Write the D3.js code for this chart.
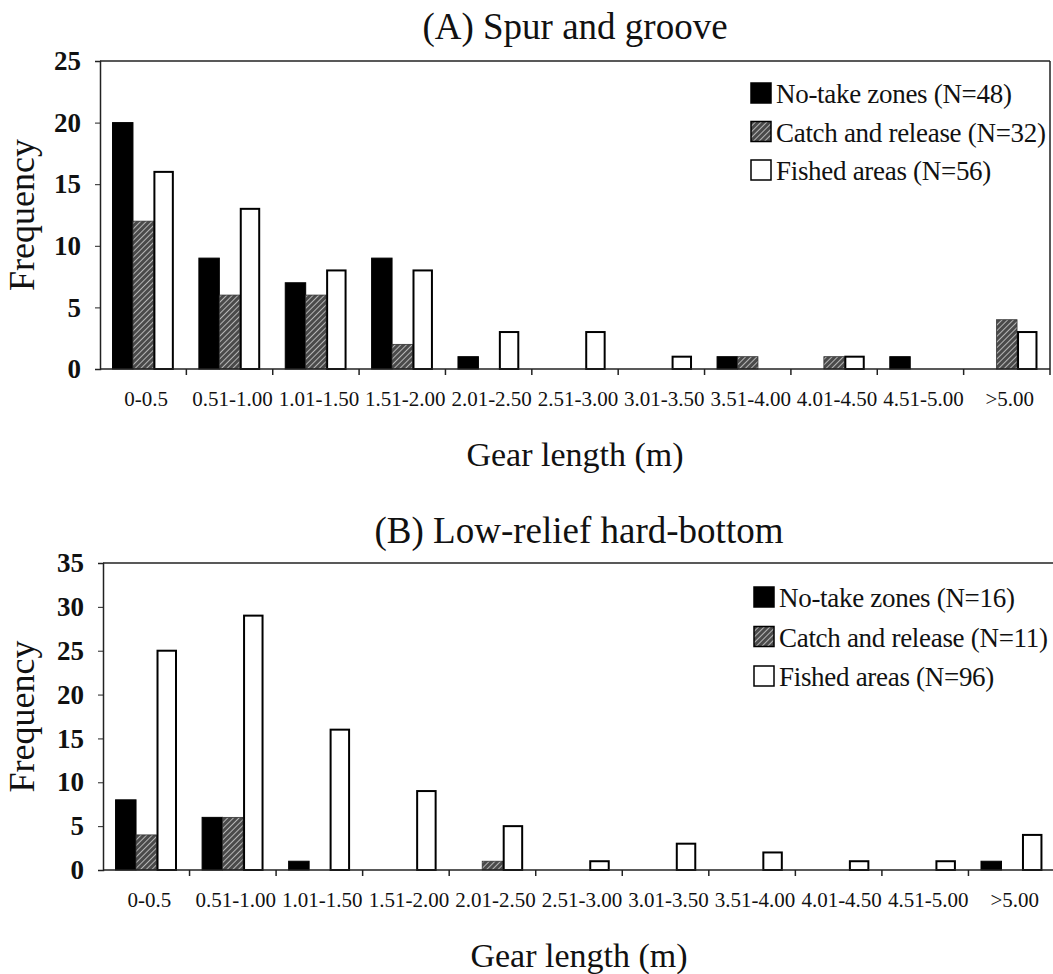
<!DOCTYPE html>
<html>
<head>
<meta charset="utf-8">
<script src="https://cdn.jsdelivr.net/npm/d3@7"></script>
<style>
  html, body { margin: 0; padding: 0; background: #fff; }
  svg { display: block; }
  text { font-family: "Liberation Serif", "Times New Roman", serif; fill: #111; }
</style>
</head>
<body>
<svg id="chart" width="1053" height="974"></svg>
<script>
// ---------- data ----------
const categories = ["0-0.5", "0.51-1.00", "1.01-1.50", "1.51-2.00", "2.01-2.50", "2.51-3.00",
                    "3.01-3.50", "3.51-4.00", "4.01-4.50", "4.51-5.00", ">5.00"];
const seriesKeys = ["noTake", "catchRelease", "fished"];

const titleA = "(A) Spur and groove";
const legendA = ["No-take zones (N=48)", "Catch and release (N=32)", "Fished areas (N=56)"];
const noTakeA       = [20, 9, 7, 9, 1, 0, 0, 1, 0, 1, 0];
const catchReleaseA = [12, 6, 6, 2, 0, 0, 0, 1, 1, 0, 4];
const fishedA       = [16, 13, 8, 8, 3, 3, 1, 0, 1, 0, 3];
const yTicksA = [0, 5, 10, 15, 20, 25];

const titleB = "(B) Low-relief hard-bottom";
const legendB = ["No-take zones (N=16)", "Catch and release (N=11)", "Fished areas (N=96)"];
const noTakeB       = [8, 6, 1, 0, 0, 0, 0, 0, 0, 0, 1];
const catchReleaseB = [4, 6, 0, 0, 1, 0, 0, 0, 0, 0, 0];
const fishedB       = [25, 29, 16, 9, 5, 1, 3, 2, 1, 1, 4];
const yTicksB = [0, 5, 10, 15, 20, 25, 30, 35];

const xTitle = "Gear length (m)";
const yTitle = "Frequency";

// ---------- drawing ----------
const svg = d3.select("#chart");
const defs = svg.append("defs");
const pat = defs.append("pattern")
  .attr("id", "hatch").attr("patternUnits", "userSpaceOnUse")
  .attr("width", 4).attr("height", 4)
  .attr("patternTransform", "rotate(45)");
pat.append("rect").attr("width", 4).attr("height", 4).attr("fill", "#4a4a4a");
pat.append("line").attr("x1", 0).attr("y1", 0).attr("x2", 0).attr("y2", 4)
  .attr("stroke", "#e4e4e4").attr("stroke-width", 1.4);

const styles = {
  noTake:       { fill: "#000", stroke: "#000", sw: 1 },
  catchRelease: { fill: "url(#hatch)", stroke: "#333", sw: 0.8 },
  fished:       { fill: "#fff", stroke: "#000", sw: 2 }
};

function drawPanel(cfg) {
  const g = svg.append("g");
  const x0 = d3.scaleBand().domain(categories)
    .range([cfg.left, cfg.right]).paddingInner(0.29).paddingOuter(0.145);
  const x1 = d3.scaleBand().domain(seriesKeys).range([0, x0.bandwidth()]).padding(0);
  const y = d3.scaleLinear().domain([0, cfg.yMax]).range([cfg.bottom, cfg.top]);
  const step = x0.step();
  const cx = (cfg.left + cfg.right) / 2;

  // frame lines (top / right)
  g.append("line").attr("x1", cfg.left).attr("x2", cfg.right)
    .attr("y1", cfg.top).attr("y2", cfg.top).attr("stroke", "#222").attr("stroke-width", 1.5);
  g.append("line").attr("x1", cfg.right).attr("x2", cfg.right)
    .attr("y1", cfg.top).attr("y2", cfg.bottom).attr("stroke", "#222").attr("stroke-width", 1.5);

  // bars
  const rows = categories.map((c, i) => ({
    cat: c,
    values: seriesKeys.map(k => ({ key: k, value: cfg.data[k][i] }))
  }));
  const grp = g.selectAll("g.cat").data(rows).join("g")
    .attr("transform", d => `translate(${x0(d.cat)},0)`);
  grp.selectAll("rect").data(d => d.values.filter(v => v.value > 0)).join("rect")
    .attr("x", d => x1(d.key) + (d.key === "fished" ? 1 : 0))
    .attr("width", d => x1.bandwidth() - (d.key === "fished" ? 2 : 0))
    .attr("y", d => y(d.value))
    .attr("height", d => y(0) - y(d.value))
    .attr("fill", d => styles[d.key].fill)
    .attr("stroke", d => styles[d.key].stroke)
    .attr("stroke-width", d => styles[d.key].sw);

  // y axis
  const yAxis = d3.axisLeft(y).tickValues(cfg.yTicks).tickSize(5).tickPadding(14);
  const ya = g.append("g").attr("transform", `translate(${cfg.left},0)`).call(yAxis);
  ya.select(".domain").attr("stroke", "#222").attr("stroke-width", 1.5);
  ya.selectAll(".tick line").attr("stroke", "#222");
  ya.selectAll(".tick text").attr("font-size", 27).attr("font-weight", "bold")
    .attr("font-family", "Liberation Serif, serif").attr("fill", "#111");

  // x axis with ticks at category boundaries
  const xa = g.append("g");
  xa.append("line").attr("x1", cfg.left).attr("x2", cfg.right)
    .attr("y1", cfg.bottom).attr("y2", cfg.bottom).attr("stroke", "#222").attr("stroke-width", 1.5);
  const bounds = d3.range(1, categories.length + 1).map(i => cfg.left + i * step);
  xa.selectAll("line.xt").data(bounds).join("line").attr("class", "xt")
    .attr("x1", d => d).attr("x2", d => d)
    .attr("y1", cfg.bottom).attr("y2", cfg.bottom + 6).attr("stroke", "#222").attr("stroke-width", 1.5);
  xa.selectAll("text.xl").data(categories).join("text").attr("class", "xl")
    .attr("x", d => x0(d) + x0.bandwidth() / 2 + 3)
    .attr("y", cfg.bottom + 37)
    .attr("text-anchor", "middle")
    .attr("font-size", 21)
    .text(d => d);

  // titles
  g.append("text").attr("x", cx).attr("y", cfg.titleY).attr("text-anchor", "middle")
    .attr("font-size", 37).text(cfg.title);
  g.append("text").attr("x", cx).attr("y", cfg.bottom + 97).attr("text-anchor", "middle")
    .attr("font-size", 34).text(xTitle);
  g.append("text")
    .attr("transform", `translate(34,${(cfg.top + cfg.bottom) / 2}) rotate(-90)`)
    .attr("text-anchor", "middle").attr("font-size", 36).text(yTitle);

  // legend
  const lg = g.append("g").attr("transform", `translate(${cfg.legX},${cfg.legY})`);
  const items = lg.selectAll("g").data(seriesKeys).join("g")
    .attr("transform", (d, i) => `translate(0,${i * cfg.legStep})`);
  items.append("rect").attr("x", 0).attr("y", -10).attr("width", 20).attr("height", 20)
    .attr("fill", d => styles[d].fill).attr("stroke", "#000").attr("stroke-width", 1.5);
  items.append("text").attr("x", 25).attr("y", 10).attr("font-size", 27)
    .attr("letter-spacing", -0.3)
    .text((d, i) => cfg.legend[i]);
}

drawPanel({
  title: titleA, titleY: 39, legend: legendA,
  data: { noTake: noTakeA, catchRelease: catchReleaseA, fished: fishedA },
  yMax: 25, yTicks: yTicksA,
  left: 100, right: 1050, top: 61, bottom: 369,
  legX: 751, legY: 93, legStep: 38.5
});

drawPanel({
  title: titleB, titleY: 543, legend: legendB,
  data: { noTake: noTakeB, catchRelease: catchReleaseB, fished: fishedB },
  yMax: 35, yTicks: yTicksB,
  left: 103, right: 1055, top: 563, bottom: 870,
  legX: 754, legY: 597, legStep: 39.5
});
</script>
</body>
</html>
